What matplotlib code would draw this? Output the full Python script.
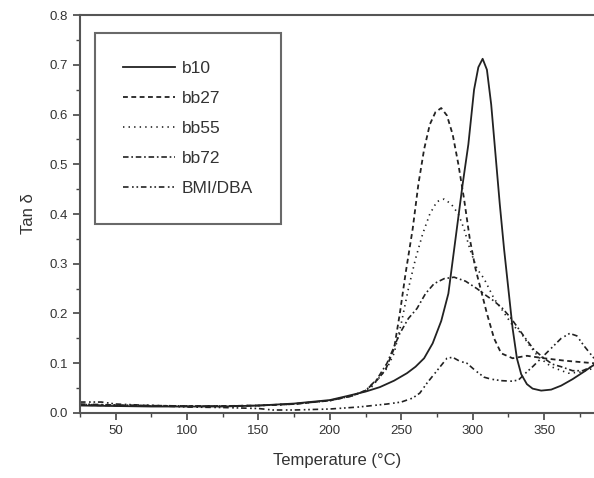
import matplotlib.pyplot as plt
from matplotlib.ticker import MultipleLocator

plt.rcParams['font.family'] = ['Liberation Sans', 'DejaVu Sans']
plt.rcParams['lines.scale_dashes'] = False

# tan delta curves
t_b10 = [25, 50, 75, 100, 125, 150, 175, 200, 212, 225, 235, 245, 254, 260, 266, 272, 278, 283, 288, 293,
         297, 301, 304, 307, 310, 313, 316, 319, 322, 325, 328, 331, 334, 338, 342, 348, 355, 362, 370, 378, 385]
b10 = [0.015, 0.014, 0.013, 0.013, 0.013, 0.015, 0.019, 0.026, 0.034, 0.043, 0.052, 0.065, 0.080, 0.093, 0.110,
       0.140, 0.185, 0.240, 0.350, 0.460, 0.540, 0.650, 0.695, 0.712, 0.690, 0.620, 0.520, 0.420, 0.330, 0.250,
       0.170, 0.110, 0.078, 0.058, 0.049, 0.045, 0.047, 0.055, 0.068, 0.083, 0.097]

t_bb27 = [25, 50, 75, 100, 125, 150, 175, 200, 215, 225, 233, 239, 245, 249, 253, 258, 262, 266, 270, 274,
          278, 282, 286, 290, 294, 298, 302, 306, 310, 315, 320, 328, 338, 350, 365, 385]
bb27 = [0.016, 0.015, 0.014, 0.014, 0.014, 0.015, 0.018, 0.025, 0.034, 0.045, 0.066, 0.087, 0.130, 0.200,
        0.280, 0.370, 0.460, 0.530, 0.580, 0.605, 0.613, 0.598, 0.560, 0.500, 0.430, 0.350, 0.290, 0.245,
        0.200, 0.150, 0.120, 0.110, 0.115, 0.110, 0.105, 0.100]

t_bb55 = [25, 50, 75, 100, 125, 150, 175, 200, 215, 228, 240, 245, 250, 255, 260, 265, 270, 275, 280, 285,
          290, 294, 298, 303, 308, 315, 320, 327, 334, 340, 346, 355, 367, 375, 385]
bb55 = [0.017, 0.016, 0.015, 0.014, 0.014, 0.015, 0.018, 0.025, 0.034, 0.048, 0.090, 0.120, 0.180, 0.250,
        0.310, 0.360, 0.400, 0.425, 0.430, 0.420, 0.400, 0.370, 0.330, 0.290, 0.270, 0.230, 0.210, 0.180,
        0.160, 0.135, 0.113, 0.093, 0.080, 0.082, 0.090]

t_bb72 = [25, 50, 75, 100, 125, 150, 175, 200, 215, 225, 233, 240, 249, 255, 261, 267, 273, 280, 287, 295,
          303, 310, 315, 321, 327, 332, 337, 343, 350, 356, 362, 370, 377, 385]
bb72 = [0.018, 0.016, 0.015, 0.014, 0.014, 0.015, 0.018, 0.025, 0.034, 0.045, 0.068, 0.100, 0.160, 0.190,
        0.210, 0.240, 0.260, 0.270, 0.273, 0.265, 0.250, 0.235, 0.225, 0.210, 0.190, 0.170, 0.150, 0.127,
        0.110, 0.098, 0.093, 0.085, 0.085, 0.095]

t_bmi = [25, 40, 50, 75, 100, 125, 150, 160, 175, 200, 220, 240, 250, 258, 263, 268, 275, 282, 286, 291,
         296, 302, 308, 313, 320, 327, 332, 337, 342, 348, 355, 362, 368, 373, 378, 385]
bmi = [0.022, 0.022, 0.018, 0.015, 0.012, 0.011, 0.009, 0.006, 0.006, 0.008, 0.012, 0.018, 0.022, 0.030,
       0.040, 0.060, 0.085, 0.110, 0.112, 0.104, 0.100, 0.085, 0.072, 0.068, 0.065, 0.064, 0.066, 0.080,
       0.093, 0.110, 0.130, 0.150, 0.160, 0.155, 0.135, 0.110]

ink = '#222222'
fig = plt.figure(figsize=(5.94, 4.78), dpi=100)
ax = fig.add_axes([0.1347, 0.136, 0.8653, 0.8326])

ax.plot(t_b10, b10, color=ink, lw=1.3, ls='-', label='b10')
ax.plot(t_bb27, bb27, color=ink, lw=1.3, ls=(0, (3.5, 2.5)), label='bb27')
ax.plot(t_bb55, bb55, color=ink, lw=1.2, ls=(0, (1, 3)), label='bb55')
ax.plot(t_bb72, bb72, color=ink, lw=1.2, ls=(0, (4, 2, 1.2, 2)), label='bb72')
ax.plot(t_bmi, bmi, color=ink, lw=1.2, ls=(0, (4, 2.5, 1.2, 2, 1.2, 2)), label='BMI/DBA')

ax.set_xlim(25, 385)
ax.set_ylim(0, 0.8)
ax.xaxis.set_major_locator(MultipleLocator(50))
ax.xaxis.set_minor_locator(MultipleLocator(25))
ax.yaxis.set_major_locator(MultipleLocator(0.1))
ax.yaxis.set_minor_locator(MultipleLocator(0.05))
ax.yaxis.set_major_formatter(lambda v, p: f'{v:.1f}')
ax.tick_params(which='major', direction='out', length=5, width=1.2, color='#444444',
               labelsize=9.5, labelcolor='#333333')
ax.tick_params(which='minor', direction='out', length=3, width=1, color='#444444')
for side in ['left', 'bottom', 'top']:
    ax.spines[side].set_linewidth(1.5)
    ax.spines[side].set_color('#555555')
ax.spines['right'].set_visible(False)

ax.set_xlabel('Temperature (°C)', fontsize=12, color='#333333', labelpad=12)
ax.set_ylabel('Tan δ', fontsize=12, color='#333333', labelpad=10)

leg = ax.legend(loc='upper left', bbox_to_anchor=(0.029, 0.955), fontsize=12.5, frameon=True,
                fancybox=False, edgecolor='#444444', handlelength=3.0, handletextpad=0.4,
                labelspacing=0.86, borderpad=1.6, borderaxespad=0)
leg.get_frame().set_linewidth(1.5)
for txt in leg.get_texts():
    txt.set_color('#333333')

fig.savefig('out.png', dpi=100)
